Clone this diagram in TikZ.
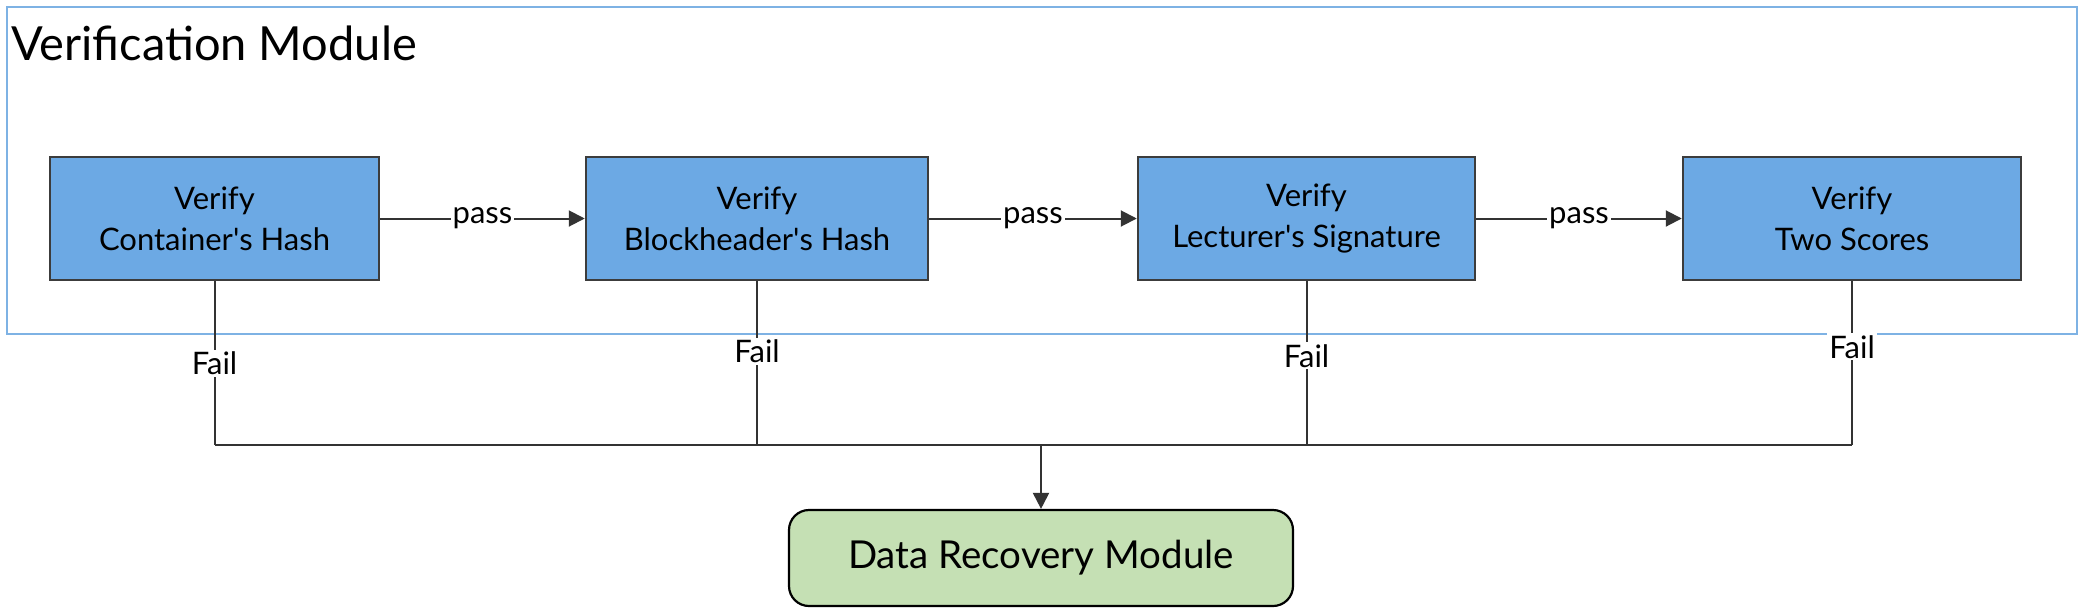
\documentclass[tikz,border=0pt]{standalone}
\usepackage{fontspec}
\setmainfont{Lato}
\usetikzlibrary{arrows.meta}
\definecolor{boxblue}{HTML}{6CA9E4}
\definecolor{boxedge}{HTML}{3C3C3C}
\definecolor{framecol}{HTML}{7EB2E4}
\definecolor{drmgreen}{HTML}{C5E0B4}
\definecolor{linecol}{HTML}{333333}
\tikzset{
  vbox/.style={draw=boxedge, line width=2.5pt, fill=boxblue, minimum height=123pt,
    align=center, font=\fontsize{31}{41}\selectfont, inner sep=0pt},
  drmbox/.style={draw=black, line width=2.2pt, fill=drmgreen, rounded corners=20pt,
    minimum width=504pt, minimum height=96pt, font=\fontsize{38.5}{46}\selectfont},
  frame/.style={draw=framecol, line width=2pt},
  conn/.style={draw=linecol, line width=2pt},
  arr/.style={conn, -{Triangle[length=16pt,width=16pt]}},
  lbl/.style={fill=white, inner sep=2pt, font=\fontsize{31}{36}\selectfont},
}
\begin{document}
\begin{tikzpicture}[x=1pt,y=-1pt]
\useasboundingbox (0,0) rectangle (2084,614);
\node[frame, minimum width=2070pt, minimum height=327pt, inner sep=0pt] (vm) at (1042,170.5) {};
\node[anchor=base west, inner sep=0pt, font=\fontsize{47}{55}\selectfont] (title) at (11,60) {Verification Module};
\node[vbox, minimum width=329pt] (b1) at (214.5,218.5) {Verify\\Container\textquotesingle s Hash};
\node[vbox, minimum width=342pt] (b2) at (757,218.5) {Verify\\Blockheader\textquotesingle s Hash};
\node[vbox, minimum width=337pt] (b3) at (1306.5,218.5) {Verify\\Lecturer\textquotesingle s Signature};
\node[vbox, minimum width=338pt] (b4) at (1852,218.5) {Verify\\Two Scores};
\node[drmbox] (drm) at (1041,558) {Data Recovery Module};
\coordinate (bus) at (0,445);
\draw[arr] (b1) -- node[lbl]{pass} (b2);
\draw[arr] (b2) -- node[lbl]{pass} (b3);
\draw[arr] (b3) -- node[lbl]{pass} (b4);
\draw[conn] (b1.south) -- node[lbl, pos=0.5]{Fail} (b1.south |- bus);
\draw[conn] (b2.south) -- node[lbl, pos=0.43]{Fail} (b2.south |- bus);
\draw[conn] (b3.south) -- node[lbl, pos=0.455]{Fail} (b3.south |- bus);
\draw[conn] (b4.south) -- node[lbl, pos=0.4]{Fail} (b4.south |- bus);
\draw[conn] (b1.south |- bus) -- (b4.south |- bus);
\draw[arr] (drm.north |- bus) -- (drm.north);
\end{tikzpicture}
\end{document}
